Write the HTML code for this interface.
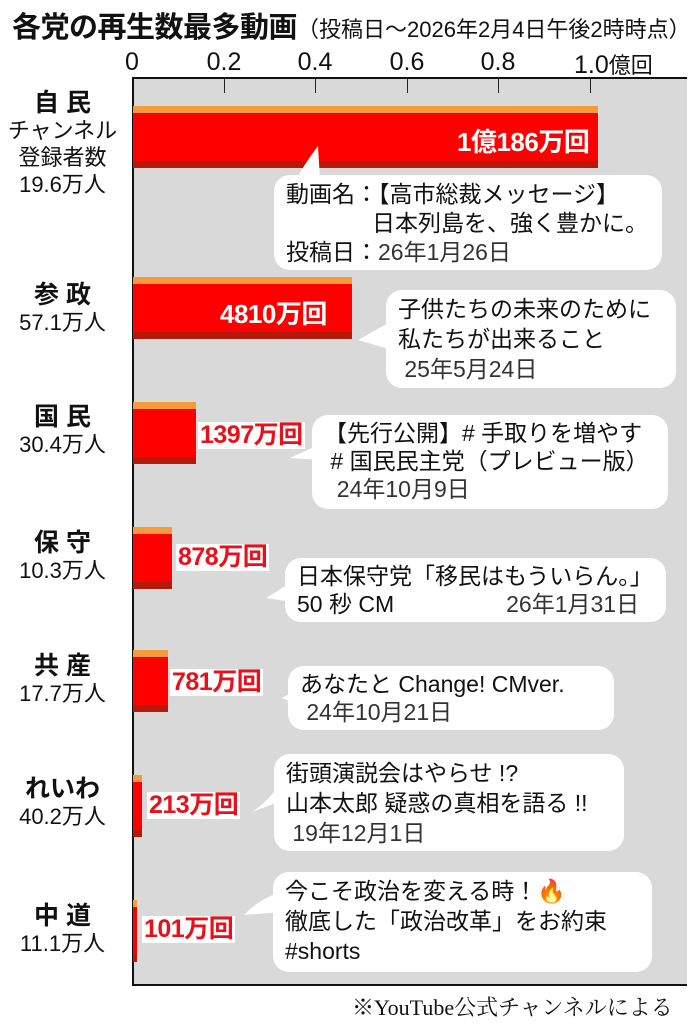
<!DOCTYPE html>
<html><head><meta charset="utf-8"><style>
*{margin:0;padding:0;box-sizing:border-box}
body{width:693px;height:1024px;background:#fff;position:relative;overflow:hidden;font-family:"Liberation Sans","Noto Sans CJK JP",sans-serif;color:#111}
.a{position:absolute;white-space:nowrap}
.plot{position:absolute;left:132px;top:77px;width:555px;height:909px;background:#d9d9d9;border-left:2px solid #111;border-top:2px solid #111;border-bottom:2px solid #111}
.tick{position:absolute;top:77px;width:1px;height:16px;background:#222}
.tl{position:absolute;top:48px;font-size:25px;transform:translateX(-50%)}
.bar{position:absolute;left:133px;height:62px;background:#f00;border-top:7px solid #f79a3e;border-bottom:7px solid #b31a0a}
.lab{position:absolute;text-align:center;width:125px;left:0;line-height:27px}
.lab b{font-size:25px;font-weight:bold;display:block}
.lab span{font-size:22px;display:block}
.val{position:absolute;font-size:25px;font-weight:bold;color:#e8101a;background:#fff;padding:0 2px;line-height:27px;letter-spacing:-0.5px}
.bub{position:absolute;background:#fff;border-radius:16px;font-size:23px;line-height:30px;padding:4px 12px}
.g{color:#333}
</style></head><body>
<div class="a" style="left:12px;top:4px;font-size:29px;font-weight:bold;letter-spacing:-0.5px">各党の再生数最多動画<span style="font-size:22px;font-weight:normal;letter-spacing:0px">（投稿日～2026年2月4日午後2時時点）</span></div>
<div class="plot"></div>
<div class="tl" style="left:132px">0</div><div class="tl" style="left:224px">0.2</div><div class="tl" style="left:315px">0.4</div><div class="tl" style="left:407px">0.6</div><div class="tl" style="left:498px">0.8</div><div class="a" style="left:574px;top:48px;font-size:25px">1.0<span style="font-size:22px">億回</span></div>
<div class="tick" style="left:224px"></div><div class="tick" style="left:315px"></div><div class="tick" style="left:407px"></div><div class="tick" style="left:498px"></div><div class="tick" style="left:590px"></div>

<div class="bar" style="top:106px;width:465px"></div>
<div class="bar" style="top:277px;width:219px"></div>
<div class="bar" style="top:402px;width:63px"></div>
<div class="bar" style="top:527px;width:39px"></div>
<div class="bar" style="top:650px;width:35px"></div>
<div class="bar" style="top:775px;width:9px"></div>
<div class="bar" style="top:900px;width:4px"></div>

<div class="lab" style="top:90px"><b>自 民</b><span>チャンネル</span><span>登録者数</span><span>19.6万人</span></div>
<div class="lab" style="top:282px"><b>参 政</b><span>57.1万人</span></div>
<div class="lab" style="top:404px"><b>国 民</b><span>30.4万人</span></div>
<div class="lab" style="top:530px"><b>保 守</b><span>10.3万人</span></div>
<div class="lab" style="top:653px"><b>共 産</b><span>17.7万人</span></div>
<div class="lab" style="top:776px"><b>れいわ</b><span>40.2万人</span></div>
<div class="lab" style="top:903px"><b>中 道</b><span>11.1万人</span></div>

<div class="a" style="left:457px;top:122px;font-size:26px;font-weight:bold;color:#fff;letter-spacing:-0.5px">1億186万回</div>
<div class="a" style="left:220px;top:294px;font-size:26px;font-weight:bold;color:#fff;letter-spacing:-0.5px">4810万回</div>
<div class="val" style="left:198px;top:422px">1397万回</div>
<div class="val" style="left:176px;top:544px">878万回</div>
<div class="val" style="left:170px;top:669px">781万回</div>
<div class="val" style="left:147px;top:792px">213万回</div>
<div class="val" style="left:142px;top:916px">101万回</div>

<svg class="a" style="left:0;top:0" width="693" height="1024">
<path d="M318 146 Q300 170 294 185 L320 180 Z" fill="#fff"/>
<path d="M390 322 L358 340 L392 350 Z" fill="#fff"/>
<path d="M318 445 L290 458 L320 460 Z" fill="#fff"/>
<path d="M292 582 L266 598 L292 602 Z" fill="#fff"/>
<path d="M296 690 L282 698 L296 704 Z" fill="#fff"/>
<path d="M280 783 Q270 800 252 812 L284 800 Z" fill="#fff"/>
<path d="M278 893 Q258 900 244 915 L282 912 Z" fill="#fff"/>
</svg>

<div class="bub" style="left:274px;top:175px;width:388px;height:95px;line-height:29px;padding-top:5px">動画名：<span>【高市総裁メッセージ】</span><br><span style="padding-left:86px">日本列島を、強く豊かに。</span><br>投稿日：<span class="g">26年1月26日</span></div>
<div class="bub" style="left:386px;top:290px;width:290px;height:98px">子供たちの未来のために<br>私たちが出来ること<br><span class="g">&nbsp;25年5月24日</span></div>
<div class="bub" style="left:312px;top:415px;width:356px;height:94px;line-height:28px">【先行公開】# 手取りを増やす<br>&nbsp;# 国民民主党（プレビュー版）<br><span class="g">&nbsp;&nbsp;24年10月9日</span></div>
<div class="bub" style="left:285px;top:558px;width:381px;height:64px;line-height:28px">日本保守党「移民はもういらん。」<br>50 秒 CM<span class="g" style="padding-left:112px">26年1月31日</span></div>
<div class="bub" style="left:288px;top:666px;width:326px;height:64px;line-height:28px">あなたと Change! CMver.<br><span class="g">&nbsp;24年10月21日</span></div>
<div class="bub" style="left:274px;top:754px;width:350px;height:97px">街頭演説会はやらせ !?<br>山本太郎 疑惑の真相を語る !!<br><span class="g">&nbsp;19年12月1日</span></div>
<div class="bub" style="left:273px;top:872px;width:379px;height:100px">今こそ政治を変える時！<span style="color:#f7931e">&#x1F525;</span><br>徹底した「政治改革」をお約束<br>#shorts</div>

<div class="a" style="left:352px;top:991px;font-size:22px;font-family:'Liberation Serif','Noto Serif CJK SC',serif">※YouTube公式チャンネルによる</div>
</body></html>
